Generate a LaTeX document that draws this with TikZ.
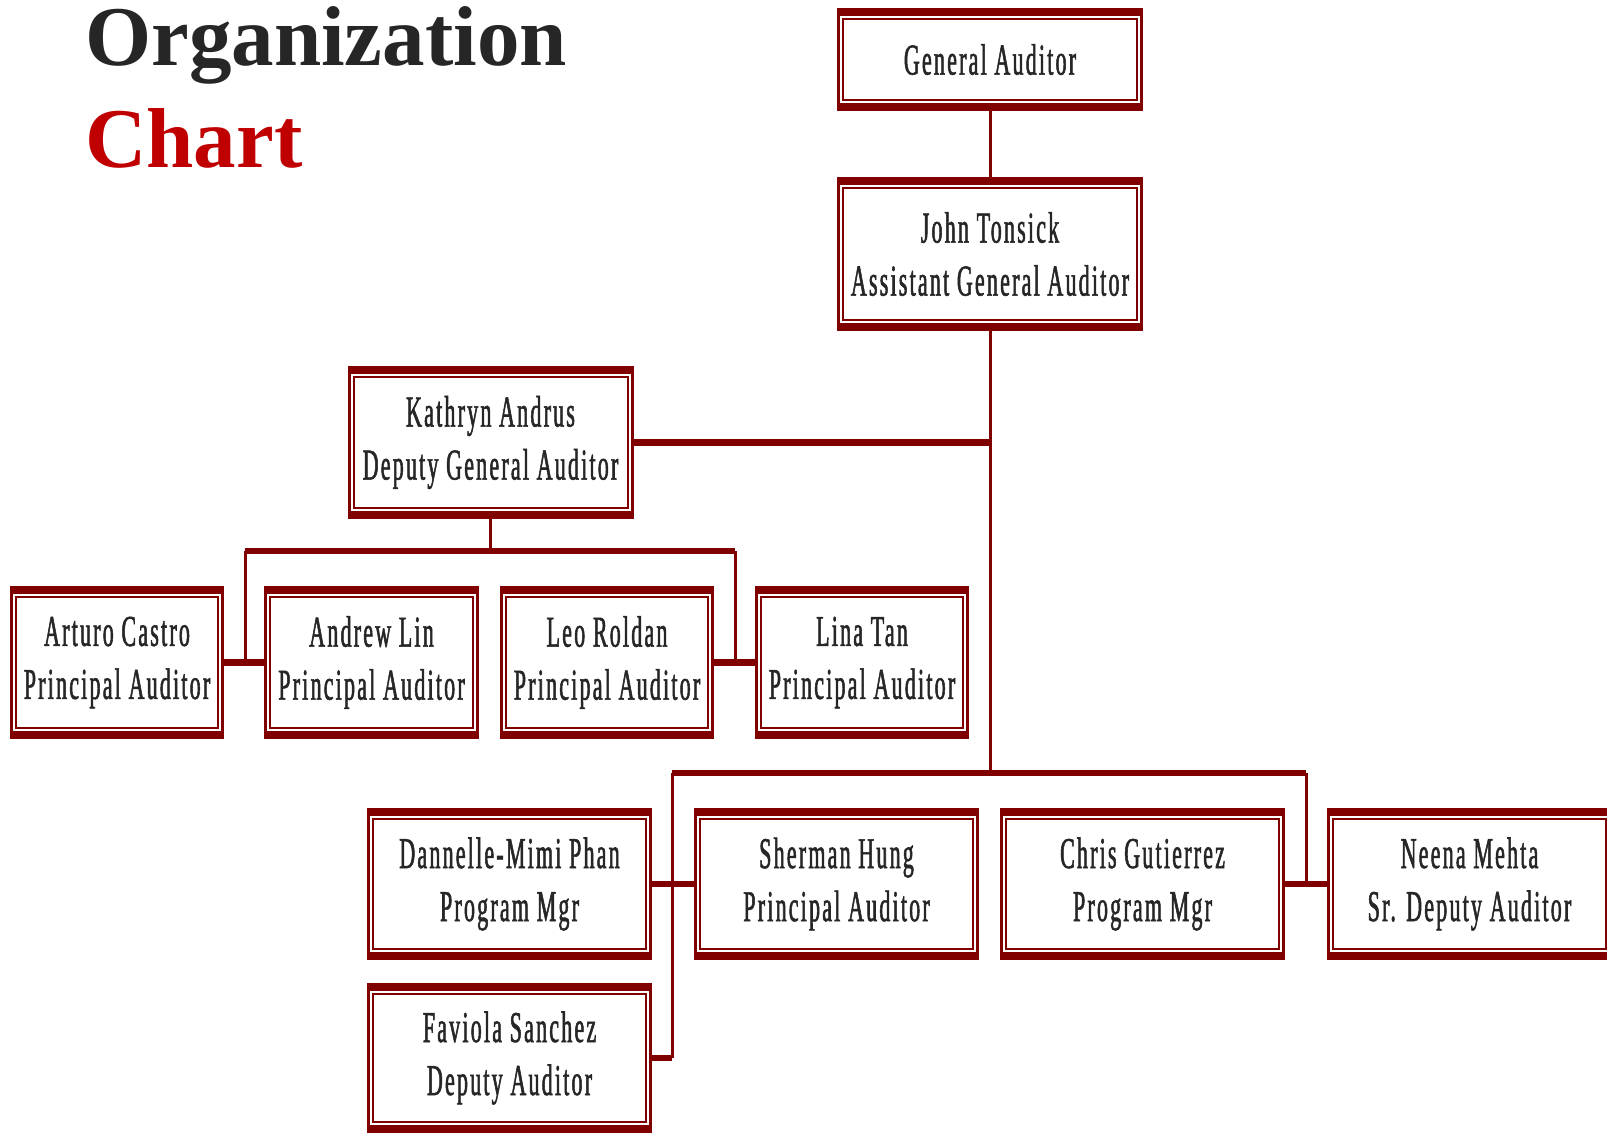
\documentclass[tikz,border=0pt]{standalone}
\usepackage{fontspec}
\setmainfont{Liberation Serif}
\newfontfamily\titlefont{Liberation Serif}
\newfontfamily\boxfont[FakeStretch=0.5,LetterSpace=5,FakeBold=1.2]{Liberation Serif}
\definecolor{chartred}{RGB}{128,0,0}
\definecolor{titlered}{RGB}{192,0,0}
\definecolor{inkgray}{RGB}{38,38,38}
\tikzset{
  orgbox/.style={fill=chartred, minimum width=#1, minimum height=153pt, inner sep=0pt,
    align=center, text=inkgray, font=\boxfont\fontsize{44}{53}\selectfont,
    path picture={
      \fill[white] ([xshift=3pt,yshift=-8pt]path picture bounding box.north west)
        rectangle ([xshift=-3pt,yshift=8pt]path picture bounding box.south east);
      \draw[chartred, line width=2pt] ([xshift=6pt,yshift=-11pt]path picture bounding box.north west)
        rectangle ([xshift=-6pt,yshift=11pt]path picture bounding box.south east);
    }},
  orgbox/.default=285pt,
  stem/.style={draw=chartred, line width=3pt},
  bar/.style={draw=chartred, line width=6.5pt},
}
\begin{document}
\begin{tikzpicture}[x=1pt, y=-1pt]
  \useasboundingbox (0,0) rectangle (1607,1135);
  % title
  \node[anchor=base west, inner sep=0pt, font=\titlefont\bfseries\fontsize{85}{85}\selectfont, text=inkgray] (title) at (85,65) {Organization};
  \node[anchor=base west, inner sep=0pt, font=\titlefont\bfseries\fontsize{85}{85}\selectfont, text=titlered] (subtitle) at (85,167) {Chart};
  % boxes
  \node[orgbox=306pt, minimum height=103pt] (ga) at (990,59.5) {General Auditor};
  \node[orgbox=306pt, minimum height=154pt] (jt) at (990,254) {John Tonsick\\Assistant General Auditor};
  \node[orgbox=286pt] (ka) at (490.5,442.5) {Kathryn Andrus\\Deputy General Auditor};
  \node[orgbox=214pt] (ac) at (117,662.5) {Arturo Castro\\Principal Auditor};
  \node[orgbox=215pt] (al) at (371.5,662.5) {Andrew Lin\\Principal Auditor};
  \node[orgbox=214pt] (lr) at (607,662.5) {Leo Roldan\\Principal Auditor};
  \node[orgbox=214pt] (lt) at (862,662.5) {Lina Tan\\Principal Auditor};
  \node[orgbox, minimum height=152pt] (dp) at (509.5,884) {Dannelle-Mimi Phan\\Program Mgr};
  \node[orgbox, minimum height=152pt] (sh) at (836.5,884) {Sherman Hung\\Principal Auditor};
  \node[orgbox, minimum height=152pt] (cg) at (1142.5,884) {Chris Gutierrez\\Program Mgr};
  \node[orgbox, minimum height=152pt] (nm) at (1469.5,884) {Neena Mehta\\Sr. Deputy Auditor};
  \node[orgbox, minimum height=150pt] (fs) at (509.5,1058) {Faviola Sanchez\\Deputy Auditor};
  % junctions
  \coordinate (kl) at (245,551);
  \coordinate (kr) at (735,551);
  \coordinate (bl) at (672,773);
  \coordinate (br) at (1306,773);
  % connectors
  \draw[stem] (ga) -- (jt);
  \draw[stem] (jt.south) -- (jt.south |- bl);
  \draw[bar] (ka.east) -- (ka.east -| jt.south);
  \draw[stem] (ka.south) -- (ka.south |- kl);
  \draw[bar] (kl) -- (kr);
  \draw[stem] (kl) -- (kl |- ac.east);
  \draw[stem] (kr) -- (kr |- lr.east);
  \draw[bar] (ac.east) -- (al.west);
  \draw[bar] (lr.east) -- (lt.west);
  \draw[bar] (bl) -- (br);
  \draw[stem] (bl) -- (bl |- fs.east);
  \draw[stem] (br) -- (br |- cg.east);
  \draw[bar] (dp.east) -- (sh.west);
  \draw[bar] (cg.east) -- (nm.west);
  \draw[bar] (fs.east) -- (bl |- fs.east);
\end{tikzpicture}
\end{document}
